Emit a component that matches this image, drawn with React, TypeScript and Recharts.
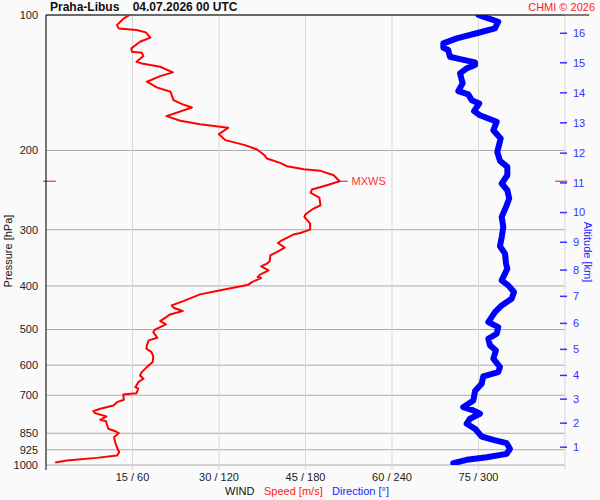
import { CartesianGrid, Line, LineChart, ReferenceLine, XAxis, YAxis } from 'recharts'

// wind speed profile (pressure hPa -> m/s)
const speedLevels = [
  100, 101.7, 105.3, 107.1, 108.0, 109.3, 112.3, 114.7, 118.6, 120.7, 121.3, 123.4, 127.0, 128.1,
  130.3, 134.1, 136.7, 140.7, 144.8, 148.1, 154.6, 157.8, 160.5, 167.8, 171.8, 174.8, 178.1, 184.0,
  189.7, 194.6, 199.0, 204.9, 208.4, 213.1, 216.8, 220.1, 222.0, 227.0, 234.1, 238.9, 244.3, 248.6,
  254.5, 264.7, 269.2, 277.2, 281.0, 290.7, 299.9, 305.1, 307.6, 316.7, 321.1, 328.8, 336.3, 342.0,
  352.2, 356.9, 361.9, 369.4, 377.0, 382.3, 384.2, 392.2, 397.4, 410.7, 417.7, 432.3, 441.9, 447.2,
  454.9, 462.8, 470.6, 478.9, 487.0, 500.4, 506.6, 521.3, 528.5, 542.3, 551.5, 561.2, 573.7, 590.7,
  606.0, 621.7, 632.3, 643.1, 654.4, 671.4, 676.9, 692.3, 696.9, 716.1, 725.0, 737.3, 749.9, 759.2,
  767.0, 780.1, 793.4, 799.2, 830.8, 841.1, 849.7, 867.3, 890.1, 913.3, 936.9, 952.9, 964.2, 977.7,
  987.3,
]
const speedMs = [
  14.5, 13.5, 12.3, 12.6, 15.7, 17.3, 18.1, 16.3, 14.8, 14.9, 16.6, 16.9, 15.7, 16.6,
  19.8, 22.0, 19.8, 17.5, 19.2, 21.6, 22.1, 23.6, 25.3, 20.9, 23.3, 26.7, 31.6, 30.0,
  31.1, 34.5, 36.6, 37.9, 38.3, 40.6, 41.8, 44.7, 47.6, 49.9, 50.9, 48.7, 46.1, 45.9,
  47.4, 47.6, 46.4, 45.0, 44.8, 45.8, 45.8, 44.1, 42.9, 40.9, 40.2, 41.4, 40.0, 38.9,
  38.8, 38.3, 37.3, 38.6, 37.2, 36.7, 37.3, 35.7, 35.1, 29.6, 26.7, 23.8, 21.8, 22.1,
  23.7, 21.5, 20.7, 19.8, 20.8, 18.9, 18.6, 19.3, 17.8, 17.5, 17.4, 18.3, 18.6, 18.5,
  17.5, 16.6, 16.3, 16.9, 16.0, 15.5, 16.0, 15.7, 13.4, 13.5, 12.3, 11.7, 9.4, 8.2,
  8.5, 10.5, 9.4, 10.4, 10.8, 12.0, 12.6, 11.8, 12.0, 12.3, 12.7, 12.3, 8.8, 3.6,
  1.6,
]

// wind direction profile (pressure hPa -> degrees)
const dirLevels = [
  100, 100.9, 103.5, 107.1, 109.8, 112.7, 115.6, 118.2, 119.6, 123.8, 125.3, 127.4, 129.2, 131.4,
  134.8, 141.9, 147.6, 150.1, 154.6, 157.3, 163.5, 167.0, 172.7, 180.3, 188.1, 201.5, 210.9, 217.5,
  227.0, 236.8, 245.1, 255.8, 267.0, 281.0, 295.8, 311.3, 326.6, 339.1, 356.9, 366.2, 388.7, 398.8,
  412.7, 426.9, 441.9, 457.3, 481.3, 493.8, 510.8, 524.2, 542.3, 556.4, 580.5, 606.0, 621.7, 635.7,
  659.8, 685.2, 718.7, 743.8, 756.5, 769.4, 789.3, 809.8, 831.0, 864.3, 879.1, 894.5, 920.4, 944.5,
  961.1, 973.8, 990.8,
]
const dirDeg = [
  300, 303.3, 313.7, 311.4, 298.7, 284.9, 275.6, 275.6, 279.0, 280.2, 287.2, 297.6, 297.6, 291.8,
  287.2, 289.0, 286.0, 292.9, 295.3, 300.5, 296.9, 301.0, 312.6, 310.3, 315.4, 313.0, 314.9, 320.0,
  320.0, 316.1, 320.0, 321.3, 319.1, 316.1, 317.2, 316.1, 314.9, 318.4, 319.1, 320.0, 316.1, 320.6,
  324.6, 323.0, 316.1, 311.4, 306.8, 313.7, 312.6, 306.8, 308.0, 312.1, 310.3, 314.9, 313.7, 303.3,
  302.2, 297.6, 296.4, 289.4, 296.4, 301.0, 294.1, 291.8, 297.6, 302.2, 310.3, 319.5, 321.8, 319.5,
  305.7, 291.8, 282.5,
]

const pressureTicks = [100, 200, 300, 400, 500, 600, 700, 850, 925, 1000]
const windTicks = [15, 30, 45, 60, 75, 90]
const altitudeKm = [16, 15, 14, 13, 12, 11, 10, 9, 8, 7, 6, 5, 4, 3, 2, 1]
const altitudeLevels = [
  109.8, 127.7, 148.9, 173.6, 202.8, 236.1, 274.8, 319.9, 368.8, 421.9, 484.5, 553.4, 632.3, 714.0,
  807.3, 912.9,
]
const mxwsLevel = 234.1
const mxwsSpeed = 50.9

const speedData = speedLevels.map((p, i) => ({ p, v: speedMs[i] }))
const dirData = dirLevels.map((p, i) => ({ p, v: dirDeg[i] }))

const FONT = '"Liberation Sans", Arial, sans-serif'
const BLUE = '#0000ff'
const RED = '#ff0000'

function AltTick({ x, y, payload }: any) {
  const i = altitudeLevels.indexOf(payload.value)
  return (
    <g>
      <line x1={x - 5} x2={x + 2} y1={y} y2={y} stroke="#3333ff" strokeWidth={1.5} />
      <text x={x + 8} y={y} dy="0.35em" fill="#3333ff" fontSize={11} fontFamily={FONT}>
        {altitudeKm[i]}
      </text>
    </g>
  )
}

const abs = (extra: React.CSSProperties): React.CSSProperties => ({
  position: 'absolute',
  fontFamily: FONT,
  fontSize: 11,
  lineHeight: '14px',
  whiteSpace: 'pre',
  ...extra,
})

export default function App() {
  return (
    <div style={{ position: 'absolute', left: 0, top: 0, width: 600, height: 500, background: '#fafafa' }}>
      <LineChart width={600} height={500} layout="vertical" margin={{ top: 15, right: 0, bottom: 0, left: 0 }}>
        <CartesianGrid vertical={false} stroke="#aaaaaa" yAxisId="p" />
        <CartesianGrid horizontal={false} stroke="#d8d8d8" yAxisId="p" />
        <XAxis
          type="number"
          domain={[0, 90]}
          allowDataOverflow
          ticks={windTicks}
          interval={0}
          tickFormatter={(v: number) => (v === 90 ? '' : `${v} / ${v * 4}`)}
          axisLine={false}
          tickLine={{ stroke: '#d8d8d8' }}
          tickSize={5}
          tickMargin={3}
          tick={{ fill: '#222', fontSize: 11, fontFamily: FONT }}
          height={35}
        />
        <XAxis xAxisId="dir" type="number" domain={[0, 360]} allowDataOverflow hide />
        <YAxis
          yAxisId="p"
          type="number"
          dataKey="p"
          scale="log"
          domain={[100, 1000]}
          allowDataOverflow
          ticks={pressureTicks}
          interval={0}
          width={46}
          axisLine={{ stroke: '#000' }}
          tickLine={false}
          tick={{ fill: '#222', fontSize: 11, fontFamily: FONT }}
        />
        <YAxis
          yAxisId="alt"
          orientation="right"
          type="number"
          dataKey="p"
          scale="log"
          domain={[100, 1000]}
          allowDataOverflow
          ticks={altitudeLevels}
          interval={0}
          width={35}
          axisLine={false}
          tickLine={false}
          tickSize={0}
          tickMargin={0}
          tick={<AltTick />}
        />
        <ReferenceLine
          yAxisId="p"
          segment={[{ x: 0, y: 100 }, { x: 94.2, y: 100 }]}
          stroke="#000"
          ifOverflow="visible"
        />
        <ReferenceLine
          yAxisId="p"
          segment={[{ x: 0, y: 1000 }, { x: 0, y: 1026 }]}
          stroke="#000"
          ifOverflow="visible"
        />
        <ReferenceLine
          yAxisId="p"
          segment={[{ x: -0.5, y: mxwsLevel }, { x: 1.7, y: mxwsLevel }]}
          stroke={RED}
          ifOverflow="visible"
        />
        <ReferenceLine
          yAxisId="p"
          segment={[{ x: 88.3, y: mxwsLevel }, { x: 90.4, y: mxwsLevel }]}
          stroke={RED}
          ifOverflow="visible"
        />
        <ReferenceLine
          yAxisId="p"
          segment={[{ x: mxwsSpeed, y: mxwsLevel }, { x: mxwsSpeed + 1.4, y: mxwsLevel }]}
          stroke={RED}
          ifOverflow="visible"
          label={{ value: 'MXWS', position: 'right', fill: '#ff3333', fontSize: 11, fontFamily: FONT, offset: 4 }}
        />
        {/* invisible carrier so the altitude axis gets drawn */}
        <Line
          yAxisId="alt"
          xAxisId="dir"
          data={dirData}
          dataKey="v"
          stroke="none"
          dot={false}
          activeDot={false}
          legendType="none"
          isAnimationActive={false}
        />
        <Line
          yAxisId="p"
          xAxisId="dir"
          data={dirData}
          dataKey="v"
          stroke={BLUE}
          strokeWidth={6}
          strokeLinecap="round"
          strokeLinejoin="round"
          dot={false}
          activeDot={false}
          isAnimationActive={false}
        />
        <Line
          yAxisId="p"
          data={speedData}
          dataKey="v"
          stroke={RED}
          strokeWidth={2}
          strokeLinejoin="round"
          dot={false}
          activeDot={false}
          isAnimationActive={false}
        />
      </LineChart>
      <div style={abs({ left: 50, top: 0, fontSize: 12, fontWeight: 'bold', color: '#111' })}>
        {'Praha-Libus    04.07.2026 00 UTC'}
      </div>
      <div style={abs({ right: 5, top: 0, color: '#ff2020' })}>CHMI © 2026</div>
      <div style={abs({ left: 8, top: 251, transform: 'translate(-50%, -50%) rotate(-90deg)', color: '#111' })}>
        Pressure [hPa]
      </div>
      <div style={abs({ left: 588, top: 252, transform: 'translate(-50%, -50%) rotate(90deg)', color: '#2222ff' })}>
        Altitude [km]
      </div>
      <div style={abs({ left: 225, top: 484, color: '#111' })}>WIND</div>
      <div style={abs({ left: 264, top: 484, color: '#ff2020' })}>Speed [m/s]</div>
      <div style={abs({ left: 332, top: 484, color: '#2222ff' })}>Direction [°]</div>
    </div>
  )
}
